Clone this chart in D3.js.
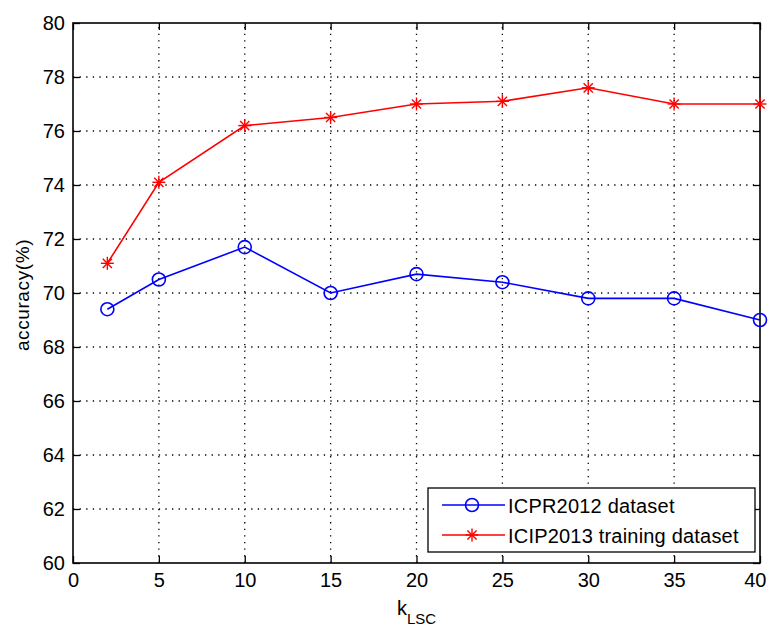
<!DOCTYPE html>
<html><head><meta charset="utf-8">
<script src="https://cdn.jsdelivr.net/npm/d3@7"></script>
<style>body{margin:0;background:#fff}svg{display:block}text{font-family:"Liberation Sans",Arial,sans-serif}</style>
</head><body>
<script>
const kValues = [2, 5, 10, 15, 20, 25, 30, 35, 40];
const icpr2012 = [69.4, 70.5, 71.7, 70.0, 70.7, 70.4, 69.8, 69.8, 69.0];
const icip2013 = [71.1, 74.1, 76.2, 76.5, 77.0, 77.1, 77.6, 77.0, 77.0];
const xTicks = [0, 5, 10, 15, 20, 25, 30, 35, 40];
const yTicks = [60, 62, 64, 66, 68, 70, 72, 74, 76, 78, 80];
const seriesNames = ["ICPR2012 dataset", "ICIP2013 training dataset"];

const W = 770, H = 627;
const m = {l: 73, t: 23, r: 10, b: 64};
const svg = d3.select("body").append("svg").attr("width", W).attr("height", H);
const x = d3.scaleLinear().domain([0, 40]).range([m.l, W - m.r]);
const y = d3.scaleLinear().domain([60, 80]).range([H - m.b, m.t]);

// grid
const g = svg.append("g");
g.selectAll(".gx").data(xTicks.slice(1, -1)).join("line")
  .attr("x1", d => x(d)).attr("x2", d => x(d)).attr("y1", y(60)).attr("y2", y(80))
  .attr("stroke", "#000").attr("stroke-width", 1.3).attr("stroke-dasharray", "1.3,5.3");
g.selectAll(".gy").data(yTicks.slice(1, -1)).join("line")
  .attr("y1", d => y(d)).attr("y2", d => y(d)).attr("x1", x(0)).attr("x2", x(40))
  .attr("stroke", "#000").attr("stroke-width", 1.3).attr("stroke-dasharray", "1.3,5.3");

// axes (ticks inside)
const tl = 7;
svg.append("g").attr("transform", `translate(0,${y(60)})`)
  .call(d3.axisBottom(x).tickValues(xTicks).tickSize(-tl).tickPadding(10).tickSizeOuter(0))
  .call(a => {
    a.select(".domain").remove();
    a.selectAll("text").attr("font-size", 20).attr("fill", "#000");
    a.selectAll("text").filter(d => d === 40).attr("text-anchor", "end").attr("x", 6);
    a.selectAll("line").attr("stroke-width", 1.3);
  });
svg.append("g").attr("transform", `translate(0,${y(80)})`)
  .call(d3.axisTop(x).tickValues(xTicks).tickSize(-tl).tickFormat("").tickSizeOuter(0))
  .call(a => { a.select(".domain").remove(); a.selectAll("line").attr("stroke-width", 1.3); });
svg.append("g").attr("transform", `translate(${x(0)},0)`)
  .call(d3.axisLeft(y).tickValues(yTicks).tickSize(-tl).tickPadding(8).tickSizeOuter(0))
  .call(a => { a.select(".domain").remove(); a.selectAll("text").attr("font-size", 20).attr("fill", "#000"); a.selectAll("line").attr("stroke-width", 1.3); });
svg.append("g").attr("transform", `translate(${x(40)},0)`)
  .call(d3.axisRight(y).tickValues(yTicks).tickSize(-tl).tickFormat("").tickSizeOuter(0))
  .call(a => { a.select(".domain").remove(); a.selectAll("line").attr("stroke-width", 1.3); });
svg.append("rect").attr("x", x(0)).attr("y", y(80)).attr("width", x(40) - x(0)).attr("height", y(60) - y(80))
  .attr("fill", "none").attr("stroke", "#000").attr("stroke-width", 1.6);

// lines
const line = d3.line().x((d, i) => x(kValues[i])).y(d => y(d));
svg.append("path").datum(icpr2012).attr("d", line).attr("fill", "none").attr("stroke", "#0000ff").attr("stroke-width", 1.6);
svg.append("path").datum(icip2013).attr("d", line).attr("fill", "none").attr("stroke", "#ff0000").attr("stroke-width", 1.6);

function star(sel, cx, cy, r, col) {
  const gg = sel.append("g").attr("stroke", col).attr("stroke-width", 1.4);
  for (let a = 0; a < 4; a++) {
    const ang = a * Math.PI / 4;
    gg.append("line").attr("x1", cx - r * Math.cos(ang)).attr("y1", cy - r * Math.sin(ang))
      .attr("x2", cx + r * Math.cos(ang)).attr("y2", cy + r * Math.sin(ang));
  }
}
svg.selectAll(".c").data(icpr2012).join("circle")
  .attr("cx", (d, i) => x(kValues[i])).attr("cy", d => y(d)).attr("r", 6.5)
  .attr("fill", "none").attr("stroke", "#0000ff").attr("stroke-width", 1.6);
icip2013.forEach((d, i) => star(svg, x(kValues[i]), y(d), 6.5, "#ff0000"));

// labels
svg.append("text").attr("transform", `translate(29,${295}) rotate(-90)`)
  .attr("text-anchor", "middle").attr("font-size", 19).attr("letter-spacing", 0.6).text("accuracy(%)");
const xl = svg.append("text").attr("x", 397).attr("y", 615).attr("font-size", 20);
xl.append("tspan").text("k");
xl.append("tspan").attr("font-size", 15).attr("dy", 9).text("LSC");

// legend
const lx = 428, ly = 488, lw = 327, lh = 64;
const lg = svg.append("g");
lg.append("rect").attr("x", lx).attr("y", ly).attr("width", lw).attr("height", lh).attr("fill", "#fff").attr("stroke", "#000").attr("stroke-width", 1.3);
const cols = ["#0000ff", "#ff0000"];
seriesNames.forEach((n, i) => {
  const yy = ly + 17 + i * 30;
  lg.append("line").attr("x1", lx + 14).attr("x2", lx + 77).attr("y1", yy).attr("y2", yy).attr("stroke", cols[i]).attr("stroke-width", 1.6);
  if (i === 0) lg.append("circle").attr("cx", lx + 44).attr("cy", yy).attr("r", 6.5).attr("fill", "none").attr("stroke", cols[i]).attr("stroke-width", 1.6);
  else star(lg, lx + 44, yy, 6.5, cols[i]);
  lg.append("text").attr("x", lx + 80).attr("y", yy + 8).attr("font-size", 20).attr("letter-spacing", 0.2).text(n);
});
</script>
</body></html>
